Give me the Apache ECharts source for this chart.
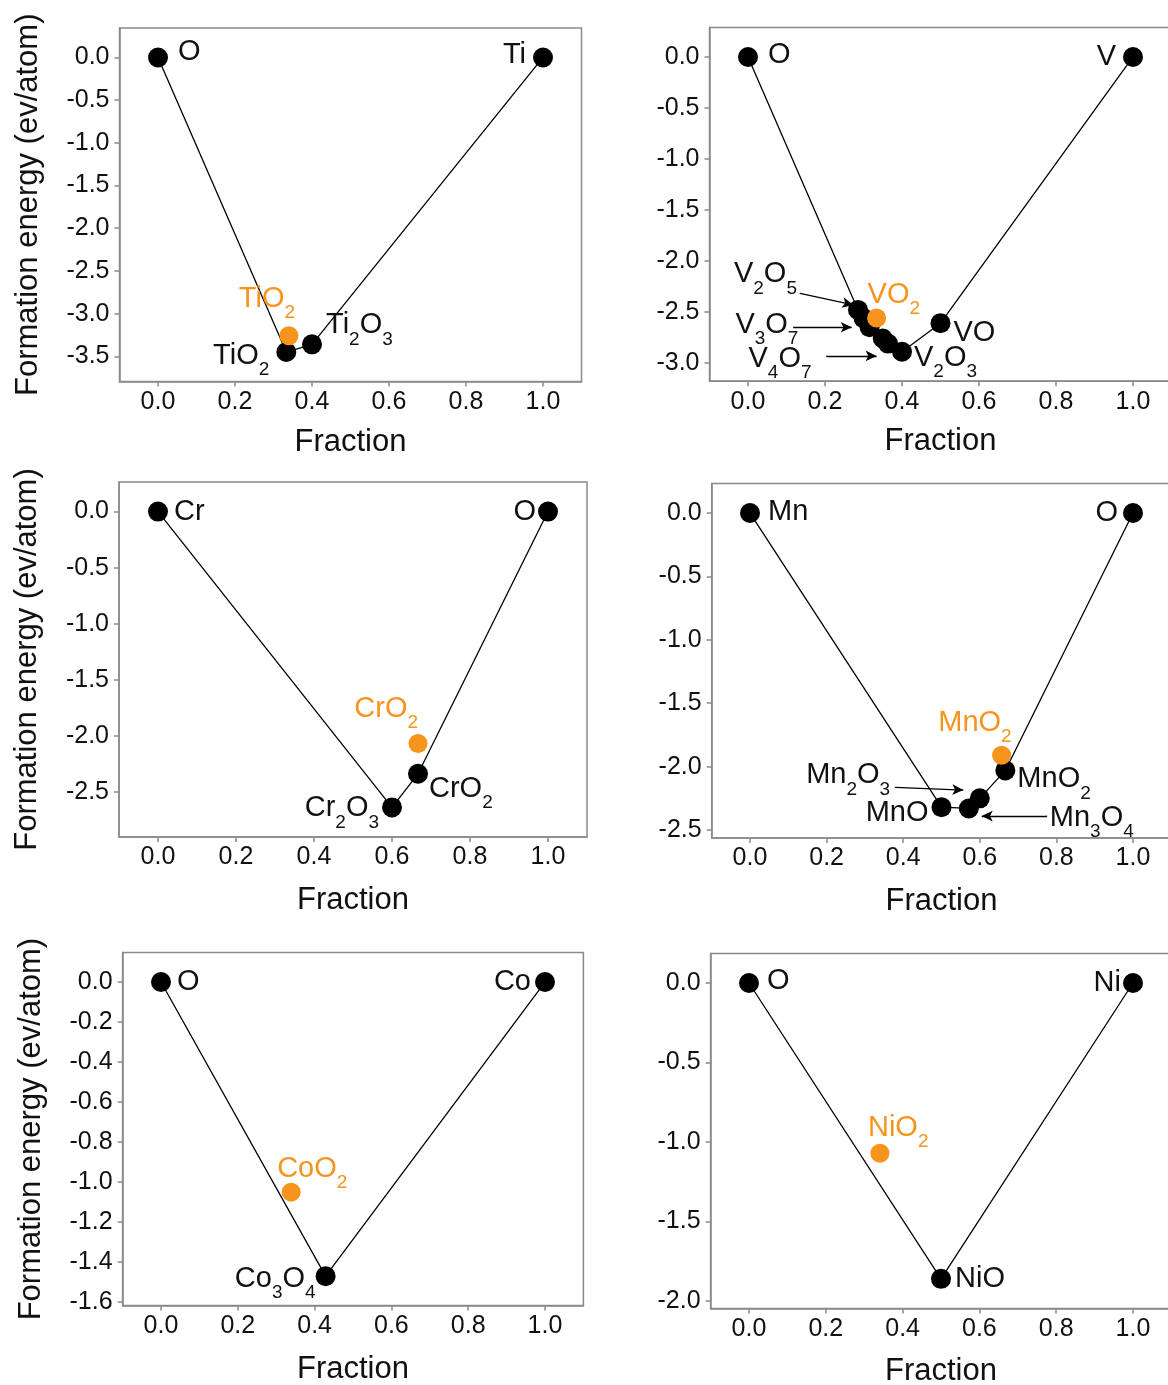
<!DOCTYPE html>
<html>
<head>
<meta charset="utf-8">
<script src="https://cdn.jsdelivr.net/npm/echarts@6/dist/echarts.min.js"></script>
<style>
  html, body { margin: 0; padding: 0; background: #fff; }
  #chart { width: 1168px; height: 1385px; }
</style>
</head>
<body>
<div id="chart"></div>
<script>
// ---------- data: convex-hull phases (black) and metastable dioxides (orange) ----------
const fractionTicks = [0, 0.2, 0.4, 0.6, 0.8, 1.0];

// Ti–O
const tiNames    = ['O', 'TiO2', 'Ti2O3', 'Ti'];
const tiFraction = [0, 0.3333, 0.4, 1];
const tiEnergy   = [0, -3.45, -3.36, 0];
const tiMetaNames    = ['TiO2'];
const tiMetaFraction = [0.34];
const tiMetaEnergy   = [-3.26];
const tiTicks = [0, -0.5, -1.0, -1.5, -2.0, -2.5, -3.0, -3.5];

// V–O
const vNames    = ['O', 'V2O5', 'V3O7', 'V6O13', 'V7O13', 'V4O7', 'V2O3', 'VO', 'V'];
const vFraction = [0, 0.2857, 0.3, 0.3158, 0.35, 0.3636, 0.4, 0.5, 1];
const vEnergy   = [0, -2.48, -2.56, -2.65, -2.76, -2.81, -2.89, -2.61, 0];
const vMetaNames    = ['VO2'];
const vMetaFraction = [0.334];
const vMetaEnergy   = [-2.56];
const vTicks = [0, -0.5, -1.0, -1.5, -2.0, -2.5, -3.0];
const vCallouts = ['V2O5', 'V3O7', 'V4O7'];
const vArrowFrom = [[0.135, -2.317], [0.118, -2.650], [0.204, -2.931]];
const vArrowTo   = [[0.2735, -2.431], [0.2694, -2.650], [0.334, -2.931]];

// Cr–O
const crNames    = ['Cr', 'Cr2O3', 'CrO2', 'O'];
const crFraction = [0, 0.6, 0.6667, 1];
const crEnergy   = [0, -2.64, -2.34, 0];
const crMetaNames    = ['CrO2'];
const crMetaFraction = [0.6667];
const crMetaEnergy   = [-2.07];
const crTicks = [0, -0.5, -1.0, -1.5, -2.0, -2.5];

// Mn–O
const mnNames    = ['Mn', 'MnO', 'Mn3O4', 'Mn2O3', 'MnO2', 'O'];
const mnFraction = [0, 0.5, 0.5714, 0.6, 0.6667, 1];
const mnEnergy   = [0, -2.32, -2.33, -2.25, -2.03, 0];
const mnMetaNames    = ['MnO2'];
const mnMetaFraction = [0.657];
const mnMetaEnergy   = [-1.91];
const mnTicks = [0, -0.5, -1.0, -1.5, -2.0, -2.5];
const mnCallouts = ['Mn2O3', 'Mn3O4'];
const mnArrowFrom = [[0.379, -2.163], [0.775, -2.390]];
const mnArrowTo   = [[0.557, -2.185], [0.605, -2.390]];

// Co–O
const coNames    = ['O', 'Co3O4', 'Co'];
const coFraction = [0, 0.4286, 1];
const coEnergy   = [0, -1.47, 0];
const coMetaNames    = ['CoO2'];
const coMetaFraction = [0.339];
const coMetaEnergy   = [-1.05];
const coTicks = [0, -0.2, -0.4, -0.6, -0.8, -1.0, -1.2, -1.4, -1.6];

// Ni–O
const niNames    = ['O', 'NiO', 'Ni'];
const niFraction = [0, 0.5, 1];
const niEnergy   = [0, -1.86, 0];
const niMetaNames    = ['NiO2'];
const niMetaFraction = [0.341];
const niMetaEnergy   = [-1.07];
const niTicks = [0, -0.5, -1.0, -1.5, -2.0];

// ---------- layout and label placement (pixels) ----------
const FONT = "'Liberation Sans', Arial, Helvetica, sans-serif";
const INK = '#111';
const ORANGE = '#F7941D';
const FRAME = '#8a8a8a';

const gridBoxes = [
  { left: 119.5, top: 28,    width: 462,   height: 353.5 },
  { left: 709.5, top: 27.5,  width: 462,   height: 353.7 },
  { left: 119,   top: 482,   width: 468,   height: 355 },
  { left: 711.7, top: 483.5, width: 459.6, height: 354.5 },
  { left: 122.6, top: 952.6, width: 460.8, height: 353 },
  { left: 710.6, top: 953.4, width: 460.8, height: 355 }
];

// [align, dx, main-text centre dy] relative to the marker centre
const placeTi = { O: ['left', 20, -5], Ti: ['right', -17, -2], TiO2: ['right', -17, 4], Ti2O3: ['left', 14, -19] };
const placeTiMeta = { TiO2: ['center', -22, -37] };
const placeV = { O: ['left', 20, -2], V: ['right', -17, 0], VO: ['left', 13, 10], V2O3: ['left', 12, 6] };
const placeVMeta = { VO2: ['left', -9, -23] };
const placeVCallout = { V2O5: ['right', -3, -19], V3O7: ['right', 5, -2], V4O7: ['right', -15, 3] };
const placeCr = { Cr: ['left', 16, 0], O: ['right', -12, 0], Cr2O3: ['right', -13, 1], CrO2: ['left', 11, 15] };
const placeCrMeta = { CrO2: ['right', 0, -35] };
const placeMn = { Mn: ['left', 18, -1], O: ['right', -15, 0], MnO: ['right', -13, 6], MnO2: ['left', 12, 9] };
const placeMnMeta = { MnO2: ['right', 10, -32] };
const placeMnCallout = { Mn2O3: ['right', -5, -12], Mn3O4: ['left', 3, 2] };
const placeCo = { O: ['left', 16, 0], Co: ['right', -14, 0], Co3O4: ['right', -10, 3] };
const placeCoMeta = { CoO2: ['left', -14, -23] };
const placeNi = { O: ['left', 18, -2], Ni: ['right', -12, 0], NiO: ['left', 14, 0] };
const placeNiMeta = { NiO2: ['left', -12, -25] };

// ---------- helpers ----------
// chemical formula -> rich text with subscripted counts
function chem(formula) {
  return formula.replace(/([A-Za-z]+)|(\d+)/g, (m, el, n) => el ? '{m|' + el + '}' : '{s|' + n + '}');
}
function richStyle(color) {
  return {
    m: { fontSize: 29, lineHeight: 29, verticalAlign: 'top', color: color, fontFamily: FONT },
    s: { fontSize: 19, lineHeight: 19, verticalAlign: 'top', padding: [19, 0, 0, 0], color: color, fontFamily: FONT }
  };
}
function labelFor(name, place, color) {
  const p = place[name];
  if (!p) return { show: false };
  return {
    show: true,
    position: 'inside',
    align: p[0],
    verticalAlign: 'top',
    offset: [p[1], p[2] - 14.5],
    color: color,
    opacity: 1,
    formatter: chem(name),
    rich: richStyle(color)
  };
}
function zip(xs, ys) { return xs.map((x, i) => [x, ys[i]]); }
function paddedRange(values) {
  const lo = Math.min(...values), hi = Math.max(...values);
  const pad = (hi - lo) * 0.1;
  return [lo - pad, hi + pad];
}

const grids = [], xAxes = [], yAxes = [], series = [];

function addPanel(idx, p) {
  const box = gridBoxes[idx];
  grids.push({ left: box.left, top: box.top, width: box.width, height: box.height,
               outerBoundsMode: 'none', containLabel: false,
               show: true, borderColor: FRAME, borderWidth: 1.5, backgroundColor: 'transparent' });
  xAxes.push({
    type: 'value', gridIndex: idx, min: -0.1, max: 1.1,
    axisLine: { show: true, onZero: false, lineStyle: { color: FRAME, width: 1.5 } },
    axisTick: { show: true, inside: false, length: 5, customValues: fractionTicks, lineStyle: { color: FRAME, width: 1.5 } },
    axisLabel: { customValues: fractionTicks, formatter: v => v.toFixed(1), fontSize: 25, color: INK, margin: 8, fontFamily: FONT },
    splitLine: { show: false },
    name: 'Fraction', nameLocation: 'middle', nameGap: p.nameGap,
    nameTextStyle: { fontSize: 31, color: INK, fontFamily: FONT }
  });
  const allE = p.energy.concat(p.metaEnergy);
  const yr = paddedRange(allE);
  yAxes.push({
    type: 'value', gridIndex: idx, min: yr[0], max: yr[1],
    axisLine: { show: true, onZero: false, lineStyle: { color: FRAME, width: 1.5 } },
    axisTick: { show: true, inside: false, length: 5, customValues: p.ticks, lineStyle: { color: FRAME, width: 1.5 } },
    axisLabel: { customValues: p.ticks, formatter: v => v.toFixed(1), fontSize: 25, color: INK, margin: 10, fontFamily: FONT },
    splitLine: { show: false },
    name: p.yTitle ? 'Formation energy (ev/atom)' : '',
    nameLocation: 'middle', nameGap: 76,
    nameTextStyle: { fontSize: 31, color: INK, fontFamily: FONT }
  });
  // hull tie-lines
  series.push({
    type: 'line', xAxisIndex: idx, yAxisIndex: idx, data: zip(p.fraction, p.energy),
    symbol: 'none', lineStyle: { color: '#000', width: 1.3 }, z: 2, silent: true, animation: false
  });
  // stable phases
  series.push({
    type: 'scatter', xAxisIndex: idx, yAxisIndex: idx, symbolSize: 20, z: 3, silent: true, animation: false,
    itemStyle: { color: '#000', opacity: 1 },
    data: p.names.map((n, i) => ({ name: n, value: [p.fraction[i], p.energy[i]], label: labelFor(n, p.place, INK) }))
  });
  // metastable dioxides
  series.push({
    type: 'scatter', xAxisIndex: idx, yAxisIndex: idx, symbolSize: 19, z: 4, silent: true, animation: false,
    itemStyle: { color: ORANGE, opacity: 1 },
    data: p.metaNames.map((n, i) => ({ name: n, value: [p.metaFraction[i], p.metaEnergy[i]], label: labelFor(n, p.metaPlace, ORANGE) }))
  });
  // call-out labels with arrows
  if (p.callouts) {
    series.push({
      type: 'scatter', xAxisIndex: idx, yAxisIndex: idx, symbolSize: 1, z: 5, silent: true, animation: false,
      itemStyle: { color: '#000', opacity: 1 },
      data: p.callouts.map((n, i) => ({ name: n, value: p.arrowFrom[i], label: labelFor(n, p.calloutPlace, INK) }))
    });
    series.push({
      type: 'line', xAxisIndex: idx, yAxisIndex: idx, data: [], z: 5, silent: true, animation: false,
      markLine: {
        silent: true, animation: false,
        symbol: ['none', 'arrow'],
        lineStyle: { color: '#000', width: 1.3, type: 'solid' },
        label: { show: false },
        emphasis: { disabled: true },
        data: p.callouts.map((n, i) => [
          { coord: p.arrowFrom[i], symbol: 'none' },
          { coord: p.arrowTo[i], symbol: 'arrow', symbolSize: [8, 11] }
        ])
      }
    });
  }
}

addPanel(0, { names: tiNames, fraction: tiFraction, energy: tiEnergy, metaNames: tiMetaNames, metaFraction: tiMetaFraction,
              metaEnergy: tiMetaEnergy, ticks: tiTicks, place: placeTi, metaPlace: placeTiMeta, yTitle: true, nameGap: 45 });
addPanel(1, { names: vNames, fraction: vFraction, energy: vEnergy, metaNames: vMetaNames, metaFraction: vMetaFraction,
              metaEnergy: vMetaEnergy, ticks: vTicks, place: placeV, metaPlace: placeVMeta, yTitle: false, nameGap: 45,
              callouts: vCallouts, arrowFrom: vArrowFrom, arrowTo: vArrowTo, calloutPlace: placeVCallout });
addPanel(2, { names: crNames, fraction: crFraction, energy: crEnergy, metaNames: crMetaNames, metaFraction: crMetaFraction,
              metaEnergy: crMetaEnergy, ticks: crTicks, place: placeCr, metaPlace: placeCrMeta, yTitle: true, nameGap: 48 });
addPanel(3, { names: mnNames, fraction: mnFraction, energy: mnEnergy, metaNames: mnMetaNames, metaFraction: mnMetaFraction,
              metaEnergy: mnMetaEnergy, ticks: mnTicks, place: placeMn, metaPlace: placeMnMeta, yTitle: false, nameGap: 48,
              callouts: mnCallouts, arrowFrom: mnArrowFrom, arrowTo: mnArrowTo, calloutPlace: placeMnCallout });
addPanel(4, { names: coNames, fraction: coFraction, energy: coEnergy, metaNames: coMetaNames, metaFraction: coMetaFraction,
              metaEnergy: coMetaEnergy, ticks: coTicks, place: placeCo, metaPlace: placeCoMeta, yTitle: true, nameGap: 48 });
addPanel(5, { names: niNames, fraction: niFraction, energy: niEnergy, metaNames: niMetaNames, metaFraction: niMetaFraction,
              metaEnergy: niMetaEnergy, ticks: niTicks, place: placeNi, metaPlace: placeNiMeta, yTitle: false, nameGap: 48 });

const chart = echarts.init(document.getElementById('chart'), null, { renderer: 'canvas' });
chart.setOption({
  animation: false,
  backgroundColor: '#fff',
  textStyle: { fontFamily: FONT },
  grid: grids,
  xAxis: xAxes,
  yAxis: yAxes,
  series: series
});
</script>
</body>
</html>
